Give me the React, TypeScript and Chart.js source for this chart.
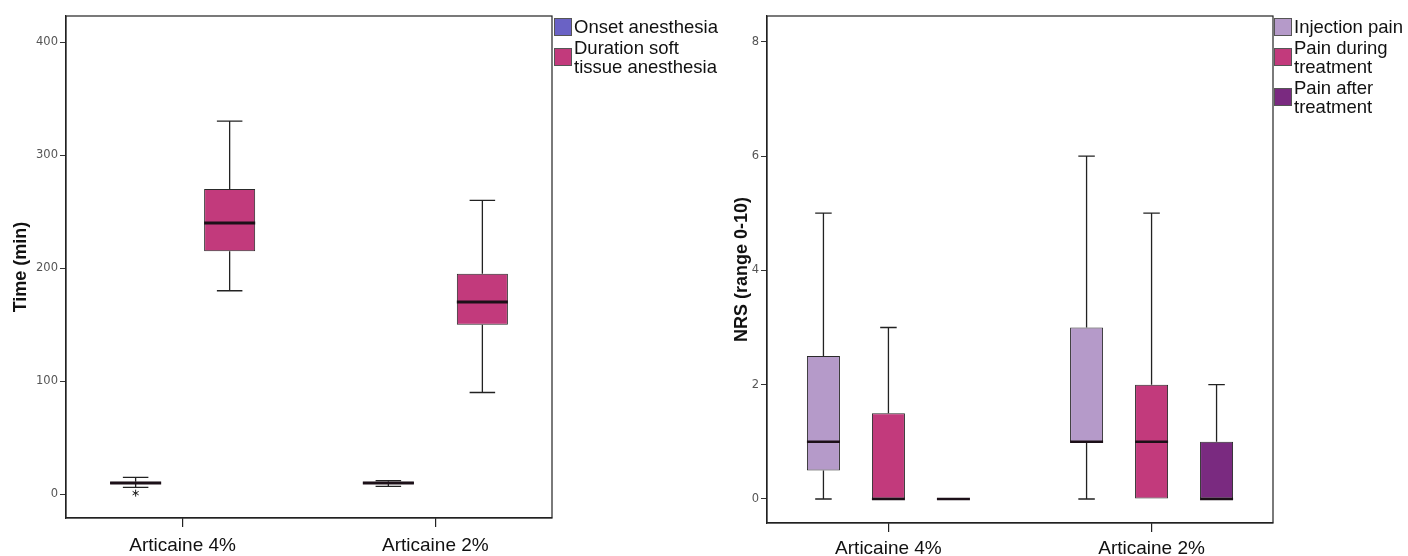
import React, { useEffect, useRef } from 'react';
import { Chart, registerables } from 'chart.js';

Chart.register(...registerables);

// ---------- data ----------
const leftCategories = ['Articaine 4%', 'Articaine 2%'];
const leftTicks = [0, 100, 200, 300, 400];
// [min, q1, median, q3, max]
const onsetStats = [
  [6, 9, 10, 11, 15],
  [7, 9, 10, 11, 12],
];
const durationStats = [
  [180, 215, 240, 270, 330],
  [90, 150, 170, 195, 260],
];
const onsetExtremes = [[1], []];
const durationExtremes = [[], []];

const rightCategories = ['Articaine 4%', 'Articaine 2%'];
const rightTicks = [0, 2, 4, 6, 8];
const injectionStats = [
  [0, 0.5, 1, 2.5, 5],
  [0, 1, 1, 3, 6],
];
const duringStats = [
  [0, 0, 0, 1.5, 3],
  [0, 0, 1, 2, 5],
];
const afterStats = [
  [0, 0, 0, 0, 0],
  [0, 0, 0, 1, 2],
];

const leftLegend = [
  { lines: ['Onset anesthesia'], color: '#6a62c5' },
  { lines: ['Duration soft', 'tissue anesthesia'], color: '#c23a7c' },
];
const rightLegend = [
  { lines: ['Injection pain'], color: '#b59ac9' },
  { lines: ['Pain during', 'treatment'], color: '#c23a7c' },
  { lines: ['Pain after', 'treatment'], color: '#7a2a80' },
];

// ---------- plugins ----------
const boxPlugin = {
  id: 'boxWhisker',
  afterDatasetsDraw(chart: any, _args: any, opts: any) {
    const { ctx } = chart;
    const y = chart.scales.y;
    chart.data.datasets.forEach((ds: any, i: number) => {
      const meta = chart.getDatasetMeta(i);
      meta.data.forEach((el: any, j: number) => {
        const s = ds.stats[j];
        const { x, width } = el.getProps(['x', 'width'], true);
        const half = width / 2;
        const cap = width / 4;
        const p = s.map((v: number) => y.getPixelForValue(v));
        ctx.save();
        ctx.strokeStyle = '#222';
        ctx.lineWidth = 1.3;
        ctx.beginPath();
        if (s[4] > s[3]) {
          ctx.moveTo(x, p[3]);
          ctx.lineTo(x, p[4]);
          ctx.moveTo(x - cap, p[4]);
          ctx.lineTo(x + cap, p[4]);
        }
        if (s[0] < s[1]) {
          ctx.moveTo(x, p[1]);
          ctx.lineTo(x, p[0]);
          ctx.moveTo(x - cap, p[0]);
          ctx.lineTo(x + cap, p[0]);
        }
        ctx.stroke();
        ctx.strokeStyle = '#1c1018';
        ctx.lineWidth = opts.medianWidth || 2.5;
        ctx.beginPath();
        ctx.moveTo(x - half, p[2]);
        ctx.lineTo(x + half, p[2]);
        ctx.stroke();
        // extremes as asterisks
        const ex = (ds.extremes && ds.extremes[j]) || [];
        ctx.lineWidth = 1;
        ctx.strokeStyle = '#222';
        ex.forEach((v: number) => {
          const py = y.getPixelForValue(v);
          const r = 3.5;
          ctx.beginPath();
          for (let k = 0; k < 3; k++) {
            const a = (Math.PI / 3) * k + Math.PI / 2;
            ctx.moveTo(x - r * Math.cos(a), py - r * Math.sin(a));
            ctx.lineTo(x + r * Math.cos(a), py + r * Math.sin(a));
          }
          ctx.stroke();
        });
        ctx.restore();
      });
    });
  },
};

const framePlugin = {
  id: 'frame',
  afterDraw(chart: any) {
    const { ctx, chartArea } = chart;
    ctx.save();
    ctx.strokeStyle = '#222';
    ctx.lineWidth = 1.2;
    ctx.strokeRect(chartArea.left, chartArea.top, chartArea.right - chartArea.left, chartArea.bottom - chartArea.top);
    ctx.restore();
  },
};

function makeConfig(p: {
  categories: string[];
  series: { label: string; stats: number[][]; extremes?: number[][]; color: string }[];
  ticks: number[];
  min: number;
  max: number;
  title: string;
  yWidth: number;
  xHeight: number;
  padRight: number;
  titlePad: number;
  cp: number;
  bp: number;
  labelPad: number;
  medianWidth: number;
}) {
  const catIdx = p.categories.map((_, i) => i);
  return {
    type: 'bar',
    data: {
      datasets: p.series.map((s) => ({
        label: s.label,
        data: s.stats.map((v, i) => ({ x: catIdx[i], y: [v[1], v[3]] })),
        stats: s.stats,
        extremes: s.extremes,
        backgroundColor: s.color,
        borderColor: '#2a2a2a',
        borderWidth: 1,
        borderSkipped: false,
        categoryPercentage: p.cp,
        barPercentage: p.bp,
      })),
    },
    options: {
      responsive: false,
      animation: false,
      devicePixelRatio: 1,
      layout: { padding: { left: 0, top: 16, right: p.padRight, bottom: 0 } },
      plugins: {
        legend: { display: false },
        tooltip: { enabled: false },
        boxWhisker: { medianWidth: p.medianWidth },
      },
      scales: {
        x: {
          type: 'linear',
          min: -0.4615,
          max: catIdx.length - 1 + 0.4615,
          offset: false,
          afterBuildTicks(scale: any) {
            scale.ticks = catIdx.map((v) => ({ value: v }));
          },
          grid: { offset: false, drawOnChartArea: false, drawTicks: true, tickLength: 9, color: '#222', lineWidth: 1.2 },
          border: { display: true, color: '#222', width: 1.2 },
          ticks: {
            font: { family: 'Liberation Sans', size: 19 },
            color: '#111',
            padding: p.labelPad,
            maxRotation: 0,
            autoSkip: false,
            callback: (v: number) => p.categories[v],
          },
          afterFit(scale: any) {
            scale.height = p.xHeight;
          },
        },
        y: {
          type: 'linear',
          min: p.min,
          max: p.max,
          afterBuildTicks(scale: any) {
            scale.ticks = p.ticks.map((v) => ({ value: v }));
          },
          afterFit(scale: any) {
            scale.width = p.yWidth;
          },
          grid: { drawOnChartArea: false, drawTicks: true, tickLength: 6, color: '#333', lineWidth: 1 },
          border: { display: true, color: '#222', width: 1.2 },
          ticks: { font: { family: 'DejaVu Sans', size: 11.5 }, color: '#555', padding: 2 },
          title: {
            display: true,
            text: p.title,
            font: { family: 'Liberation Sans', size: 18, weight: 'bold' },
            color: '#111',
            padding: { top: p.titlePad, bottom: 0 },
          },
        },
      },
    },
    plugins: [boxPlugin, framePlugin],
  } as any;
}

function Legend({ items, left }: { items: { lines: string[]; color: string }[]; left: number }) {
  return (
    <div style={{ position: 'absolute', left, top: 17, fontFamily: 'Liberation Sans', fontSize: 18.5, color: '#111' }}>
      {items.map((it, i) => (
        <div key={i} style={{ display: 'flex', alignItems: 'center', marginBottom: 1 }}>
          <div style={{ width: 18, height: 18, background: it.color, border: '1px solid #555', boxSizing: 'border-box', marginRight: 2, flexShrink: 0 }} />
          <div style={{ lineHeight: '19.5px', whiteSpace: 'nowrap' }}>
            {it.lines.map((l, k) => (
              <div key={k}>{l}</div>
            ))}
          </div>
        </div>
      ))}
    </div>
  );
}

export default function App() {
  const leftRef = useRef<HTMLCanvasElement>(null);
  const rightRef = useRef<HTMLCanvasElement>(null);

  useEffect(() => {
    document.body.style.margin = '0';
    const c1 = new Chart(
      leftRef.current as HTMLCanvasElement,
      makeConfig({
        categories: leftCategories,
        series: [
          { label: 'Onset anesthesia', stats: onsetStats, extremes: onsetExtremes, color: '#6a62c5' },
          { label: 'Duration soft tissue anesthesia', stats: durationStats, extremes: durationExtremes, color: '#c23a7c' },
        ],
        ticks: leftTicks,
        min: -21,
        max: 423,
        title: 'Time (min)',
        yWidth: 66,
        xHeight: 38,
        padRight: 704 - 552,
        titlePad: 10,
        cp: 0.744,
        bp: 0.543,
        labelPad: 7,
        medianWidth: 3,
      })
    );
    const c2 = new Chart(
      rightRef.current as HTMLCanvasElement,
      makeConfig({
        categories: rightCategories,
        series: [
          { label: 'Injection pain', stats: injectionStats, color: '#b59ac9' },
          { label: 'Pain during treatment', stats: duringStats, color: '#c23a7c' },
          { label: 'Pain after treatment', stats: afterStats, color: '#7a2a80' },
        ],
        ticks: rightTicks,
        min: -0.42,
        max: 8.45,
        title: 'NRS (range 0-10)',
        yWidth: 63,
        xHeight: 33,
        padRight: 1408 - 1273,
        titlePad: 27,
        cp: 0.741,
        bp: 0.508,
        labelPad: 5,
        medianWidth: 2.5,
      })
    );
    return () => {
      c1.destroy();
      c2.destroy();
    };
  }, []);

  return (
    <div style={{ position: 'fixed', left: 0, top: 0, width: 1408, height: 556, background: '#fff' }}>
      <canvas ref={leftRef} width={704} height={556} style={{ position: 'absolute', left: 0, top: 0 }} />
      <canvas ref={rightRef} width={704} height={556} style={{ position: 'absolute', left: 704, top: 0 }} />
      <Legend items={leftLegend} left={554} />
      <Legend items={rightLegend} left={1274} />
    </div>
  );
}
